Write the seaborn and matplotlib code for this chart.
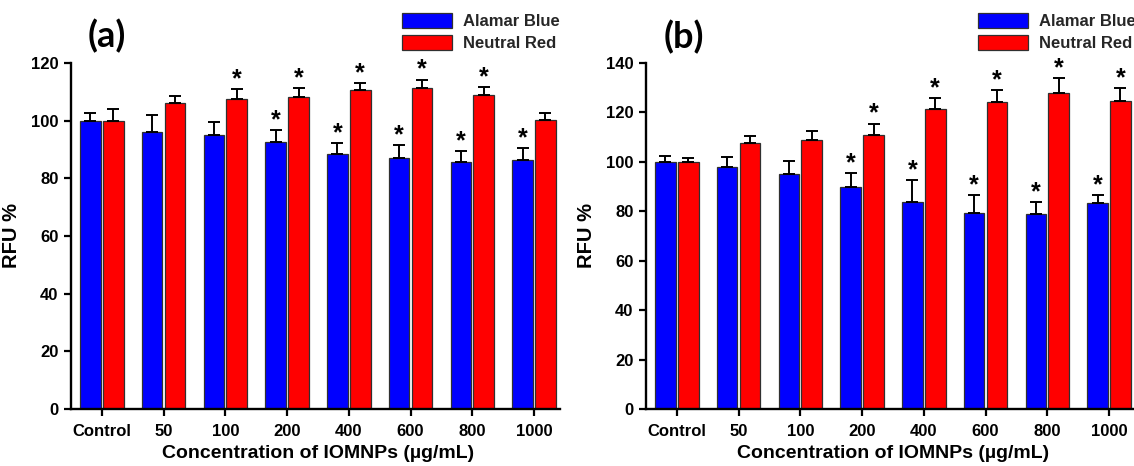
import matplotlib
matplotlib.use("Agg")
import matplotlib.pyplot as plt
import matplotlib.transforms as mtrans
import seaborn as sns
import pandas as pd
import numpy as np

# ---------------- data ----------------
categories = ["Control", "50", "100", "200", "400", "600", "800", "1000"]
series_names = ["Alamar Blue", "Neutral Red"]

blue_a = [100, 96.1, 95.1, 92.7, 88.3, 87.1, 85.8, 86.3]
blue_a_err = [2.7, 5.7, 4.6, 4.1, 3.9, 4.3, 3.6, 4.1]
red_a = [100, 106.1, 107.6, 108.2, 110.5, 111.5, 108.9, 100.1]
red_a_err = [3.9, 2.5, 3.4, 3.1, 2.4, 2.7, 2.7, 2.6]
sig_blue_a = [0, 0, 0, 1, 1, 1, 1, 1]
sig_red_a = [0, 0, 1, 1, 1, 1, 1, 0]

blue_b = [100, 97.8, 95.1, 89.9, 83.7, 79.5, 78.8, 83.4]
blue_b_err = [2.2, 4.1, 5.3, 5.6, 9.0, 7.0, 4.9, 3.2]
red_b = [100, 107.6, 108.9, 110.8, 121.3, 124.2, 127.7, 124.7]
red_b_err = [1.7, 2.7, 3.4, 4.7, 4.6, 4.9, 6.2, 5.1]
sig_blue_b = [0, 0, 0, 1, 1, 1, 1, 1]
sig_red_b = [0, 0, 0, 1, 1, 1, 1, 1]

yticks_a = [0, 20, 40, 60, 80, 100, 120]
yticks_b = [0, 20, 40, 60, 80, 100, 120, 140]

xlabel = "Concentration of IOMNPs (µg/mL)"
ylabel = "RFU %"
panel_labels = ["(a)", "(b)"]
colors = ["#0000FF", "#FF0000"]

# ---------------- style ----------------
sns.set_theme(style="ticks")
plt.rcParams["font.family"] = ["Liberation Sans", "DejaVu Sans"]
plt.rcParams["font.weight"] = "bold"

W, H = 1134, 466
fig = plt.figure(figsize=(W / 100, H / 100), dpi=100)


def px_axes(left, right, top, bottom):
    return fig.add_axes([left / W, 1 - bottom / H, (right - left) / W, (bottom - top) / H])


def make_df(blue, red):
    return pd.DataFrame({
        "conc": categories * 2,
        "assay": [series_names[0]] * len(categories) + [series_names[1]] * len(categories),
        "value": list(blue) + list(red),
    })


def draw_panel(ax, blue, blue_err, red, red_err, sig_b, sig_r, yticks, xlim,
               label_text, label_pos, legend_pos):
    df = make_df(blue, red)
    sns.barplot(data=df, x="conc", y="value", hue="assay", order=categories,
                hue_order=series_names, palette=colors, width=0.74, gap=0.1,
                edgecolor="#303030", linewidth=0.9, errorbar=None, ax=ax,
                saturation=1, legend=True)
    errs = [blue_err, red_err]
    sigs = [sig_b, sig_r]
    for ci, cont in enumerate(ax.containers[:2]):
        xs = [b.get_x() + b.get_width() / 2 for b in cont]
        ys = [b.get_height() for b in cont]
        e = np.array(errs[ci])
        ax.errorbar(xs, ys, yerr=[np.zeros_like(e), e], fmt="none", ecolor="black",
                    elinewidth=1.4, capsize=4.2, capthick=1.4, zorder=1)
        for x, y, ee, s in zip(xs, ys, e, sigs[ci]):
            if s:
                ax.annotate("*", xy=(x, y + ee), xytext=(0, -1.5), textcoords="offset points",
                            ha="center", va="bottom", fontsize=18, fontweight="bold",
                            color="black")
    ax.set_ylim(yticks[0], yticks[-1])
    ax.set_yticks(yticks)
    ax.set_xlim(*xlim)
    sns.despine(ax=ax)
    for sp in ["left", "bottom"]:
        ax.spines[sp].set_linewidth(1.7)
        ax.spines[sp].set_color("black")
    ax.tick_params(axis="both", length=5, width=1.6, color="black", labelsize=12,
                   labelcolor="black")
    ax.tick_params(axis="x", pad=6)
    ax.tick_params(axis="y", pad=4)
    for t in ax.get_xticklabels() + ax.get_yticklabels():
        t.set_fontweight("bold")
    ax.set_xlabel(xlabel, fontsize=14, fontweight="bold", color="black")
    ax.set_ylabel(ylabel, fontsize=14.5, fontweight="bold", color="black")
    blend = mtrans.blended_transform_factory(ax.transData, ax.transAxes)
    ax.xaxis.set_label_coords(3.5, -0.105, transform=blend)
    ax.yaxis.set_label_coords(-0.102, 0.5)
    handles, labels = ax.get_legend_handles_labels()
    ax.legend(handles[:2], labels[:2], loc="upper left",
              bbox_to_anchor=(legend_pos[0] / W, 1 - legend_pos[1] / H),
              bbox_transform=fig.transFigure, frameon=False, borderpad=0,
              borderaxespad=0, handlelength=3.0, handleheight=1.0,
              labelspacing=0.35, handletextpad=0.66,
              prop={"size": 12, "weight": "bold"})
    fig.text(label_pos[0] / W, 1 - label_pos[1] / H, label_text,
             ha="center", va="center", fontsize=26, fontweight="bold",
             family=["Lato", "DejaVu Sans"], color="black")


XLIM = (-0.5, 7.42)

ax_a = px_axes(71, 560, 63, 409)
draw_panel(ax_a, blue_a, blue_a_err, red_a, red_a_err, sig_blue_a, sig_red_a, yticks_a,
           XLIM, panel_labels[0], (107, 36), (402, 13))

ax_b = px_axes(646, 1135, 63, 409)
draw_panel(ax_b, blue_b, blue_b_err, red_b, red_b_err, sig_blue_b, sig_red_b, yticks_b,
           XLIM, panel_labels[1], (684, 37), (978, 13))

fig.savefig("out.png", dpi=100)
